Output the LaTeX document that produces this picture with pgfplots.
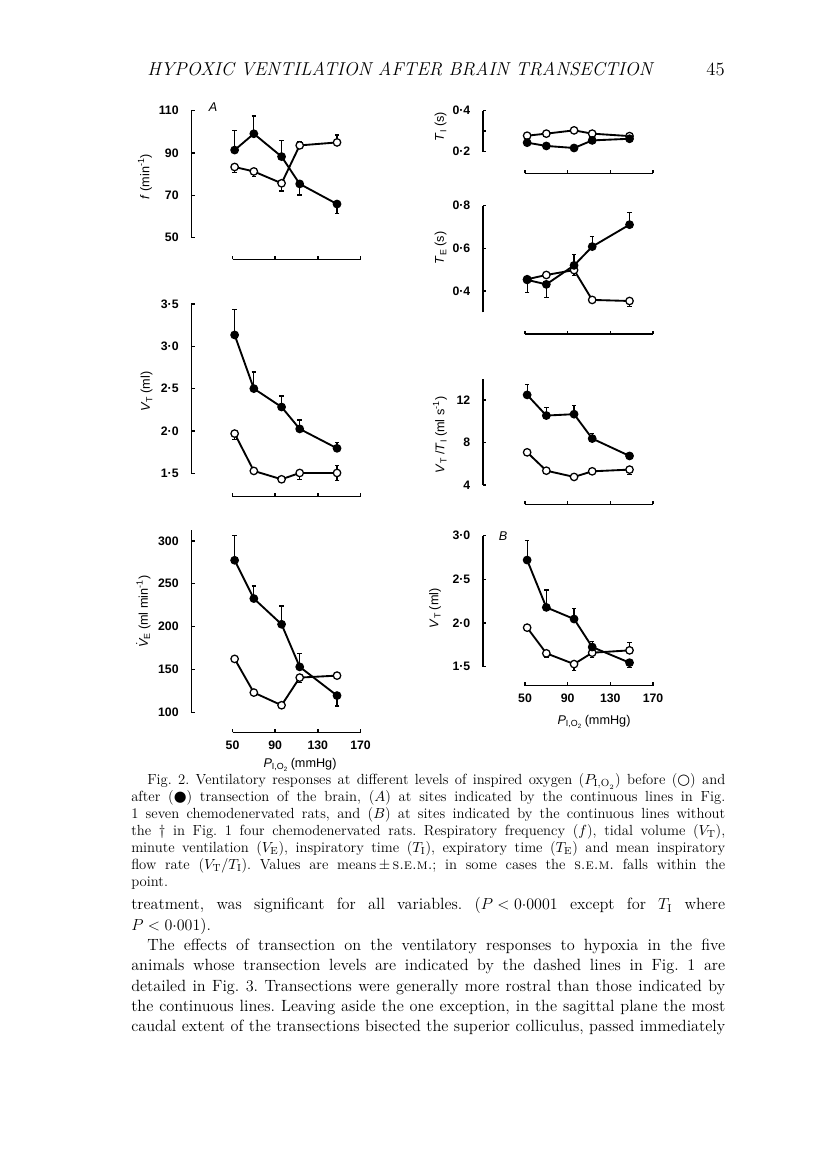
\documentclass[border=0pt]{standalone}
\usepackage{fontspec}
\usepackage{graphicx}
\usepackage{pgfplots}
\pgfplotsset{compat=1.18}
\newfontfamily\hv{Liberation Sans}
\newfontfamily\dv{DejaVu Sans}
\newcommand\tickfont{\hv\bfseries\fontsize{9.2}{10}\selectfont}
\newcommand\labfont{\hv\fontsize{9.5}{10}\selectfont}
\newcommand\sub[1]{\raisebox{-0.35ex}{\scalebox{0.7}{#1}}}
\newcommand\capfont{\fontsize{11}{13}\selectfont\thickmuskip=5mu\relax}
\newcommand\bodyfont{\fontsize{12.2}{14}\selectfont\thickmuskip=5mu\relax}
\frenchspacing

\pgfplotsset{
  panel/.style={
    scale only axis, width=96pt,
    xmin=50, xmax=170,
    axis x line*=bottom, axis y line*=left,
    xtick={50,90,130,170}, xticklabels={},
    tick align=inside, major tick length=2.6pt,
    axis line style={line width=1.05pt},
    tick style={line width=1.05pt, black},
    tick label style={font=\tickfont},
    yticklabel style={xshift=-6pt},
    xticklabel style={yshift=-3pt},
    clip=false,
  },
  leftp/.style={panel, axis y line shift=30.9pt},
  rightp/.style={panel, axis y line shift=31.5pt},
  opn/.style={black, line width=1.4pt, mark=*, mark size=2.8pt,
    mark options={fill=white, line width=0.95pt}},
  fld/.style={black, line width=1.4pt, mark=*, mark size=2.8pt,
    mark options={fill=black, line width=0.95pt}},
  ebar/.style={black, only marks, mark=none, forget plot,
    error bars/.cd, y dir=#1, y explicit,
    error bar style={line width=0.95pt, draw=black},
    error mark options={rotate=90, mark size=1.7pt, line width=0.95pt, black}},
}

\begin{document}
\begin{tikzpicture}[x=0.75pt,y=0.75pt]
\fill[white] (0,0) rectangle (816,1166);

% running head
\node[anchor=base west, inner sep=0pt] at (147,1090) {\fontsize{14}{16}\selectfont\itshape HYPOXIC VENTILATION AFTER BRAIN TRANSECTION};
\node[anchor=base east, inner sep=0pt] at (725,1090) {\fontsize{14}{16}\selectfont 45};

% f
\begin{axis}[leftp, at={(174.375pt,696.225pt)}, anchor=south west, height=95.25pt,
  ymin=50, ymax=110, ytick={50,70,90,110}, yticklabels={50,70,90,110},
  axis x line shift=16.2pt]
\addplot[ebar=plus] coordinates {(52,91.4) +- (0,9.2) (70,99.1) +- (0,8.4) (96,88.3) +- (0,7.5) (113,93.6) +- (0,2) (148,95.0) +- (0,3.5)};
\addplot[ebar=minus] coordinates {(113,75.4) +- (0,5.2) (148,65.9) +- (0,4.4) (52,83.4) +- (0,2.7) (70,81.3) +- (0,2.3) (96,75.7) +- (0,3.7)};
\addplot[opn] coordinates {(52,83.4) (70,81.3) (96,75.7) (113,93.6) (148,95.0)};
\addplot[fld] coordinates {(52,91.4) (70,99.1) (96,88.3) (113,75.4) (148,65.9)};
\end{axis}

% T_I
\begin{axis}[rightp, at={(393.75pt,760.725pt)}, anchor=south west, height=30.75pt,
  ymin=0.2, ymax=0.4, ytick={0.2,0.3,0.4}, yticklabels={0·2,,0·4},
  axis x line shift=16.2pt]
\addplot[opn] coordinates {(52,0.278) (70,0.288) (96,0.304) (113,0.288) (148,0.276)};
\addplot[fld] coordinates {(52,0.244) (70,0.228) (96,0.218) (113,0.255) (148,0.263)};
\end{axis}

% T_E
\begin{axis}[rightp, at={(393.75pt,640.275pt)}, anchor=south west, height=79.95pt,
  ymin=0.3, ymax=0.8, ytick={0.4,0.6,0.8}, yticklabels={0·4,0·6,0·8},
  axis x line shift=16.3pt]
\addplot[ebar=plus] coordinates {(96,0.520) +- (0,0.052) (113,0.608) +- (0,0.047) (148,0.711) +- (0,0.056)};
\addplot[ebar=minus] coordinates {(52,0.452) +- (0,0.058) (70,0.431) +- (0,0.061) (96,0.498) +- (0,0.025) (148,0.353) +- (0,0.026)};
\addplot[opn] coordinates {(52,0.455) (70,0.475) (96,0.498) (113,0.358) (148,0.353)};
\addplot[fld] coordinates {(52,0.452) (70,0.431) (96,0.520) (113,0.608) (148,0.711)};
\end{axis}

% V_T (A)
\begin{axis}[leftp, at={(174.375pt,519.525pt)}, anchor=south west, height=127pt,
  ymin=1.5, ymax=3.5, ytick={1.5,2,2.5,3,3.5}, yticklabels={1·5,2·0,2·5,3·0,3·5},
  axis x line shift=17.55pt]
\addplot[ebar=plus] coordinates {(52,3.134) +- (0,0.303) (70,2.5) +- (0,0.197) (96,2.283) +- (0,0.13) (113,2.024) +- (0,0.106) (148,1.795) +- (0,0.067) (148,1.504) +- (0,0.085)};
\addplot[ebar=minus] coordinates {(52,1.969) +- (0,0.07) (113,1.504) +- (0,0.08) (148,1.504) +- (0,0.085)};
\addplot[opn] coordinates {(52,1.969) (70,1.528) (96,1.429) (113,1.504) (148,1.504)};
\addplot[fld] coordinates {(52,3.134) (70,2.5) (96,2.283) (113,2.024) (148,1.795)};
\end{axis}

% V_T/T_I
\begin{axis}[rightp, at={(393.75pt,510.75pt)}, anchor=south west, height=79.5pt,
  ymin=4, ymax=14, ytick={4,8,12}, yticklabels={4,8,12},
  axis x line shift=14.5pt]
\addplot[ebar=plus] coordinates {(52,12.5) +- (0,1.0) (70,10.55) +- (0,0.73) (96,10.68) +- (0,0.85) (113,8.38) +- (0,0.47)};
\addplot[ebar=minus] coordinates {(148,5.45) +- (0,0.47)};
\addplot[opn] coordinates {(52,7.08) (70,5.35) (96,4.76) (113,5.29) (148,5.45)};
\addplot[fld] coordinates {(52,12.5) (70,10.55) (96,10.68) (113,8.38) (148,6.74)};
\end{axis}

% V_E
\begin{axis}[leftp, at={(174.375pt,340.275pt)}, anchor=south west, height=136.9pt,
  ymin=100, ymax=313, ytick={100,150,200,250,300}, yticklabels={100,150,200,250,300},
  xticklabels={50,90,130,170}, axis x line shift=15pt]
\addplot[ebar=plus] coordinates {(52,277.4) +- (0,29.2) (70,232.7) +- (0,14.8) (96,202.7) +- (0,21.4) (113,153) +- (0,15.9)};
\addplot[ebar=minus] coordinates {(148,119.5) +- (0,12.1) (113,140.5) +- (0,5.5)};
\addplot[opn] coordinates {(52,162.3) (70,123) (96,108.2) (113,140.5) (148,142.8)};
\addplot[fld] coordinates {(52,277.4) (70,232.7) (96,202.7) (113,153) (148,119.5)};
\end{axis}

% V_T (B)
\begin{axis}[rightp, at={(393.75pt,374.475pt)}, anchor=south west, height=98.25pt,
  ymin=1.5, ymax=3.0, ytick={1.5,2,2.5,3}, yticklabels={1·5,2·0,2·5,3·0},
  xticklabels={50,90,130,170}, axis x line shift=14.25pt]
\addplot[ebar=plus] coordinates {(52,2.721) +- (0,0.222) (70,2.179) +- (0,0.199) (96,2.046) +- (0,0.122) (113,1.725) +- (0,0.061) (148,1.687) +- (0,0.088)};
\addplot[ebar=minus] coordinates {(148,1.546) +- (0,0.057) (70,1.653) +- (0,0.046) (96,1.53) +- (0,0.076) (113,1.66) +- (0,0.053)};
\addplot[opn] coordinates {(52,1.947) (70,1.653) (96,1.53) (113,1.66) (148,1.687)};
\addplot[fld] coordinates {(52,2.721) (70,2.179) (96,2.046) (113,1.725) (148,1.546)};
\end{axis}

% axis titles
\node[rotate=90] at (145,989.3) {\labfont\textit{f} (min\textsuperscript{-1})};
\node[rotate=90] at (440.7,1039.3) {\labfont\textit{T}\sub{I} (s)};
\node[rotate=90] at (440.7,918) {\labfont\textit{T}\sub{E} (s)};
\node[rotate=90] at (146.7,774.3) {\labfont\textit{V}\sub{T} (ml)};
\node[rotate=90] at (440,731) {\labfont\textit{V}\sub{T} /\textit{T}\sub{I} (ml s\textsuperscript{-1})};
\node[rotate=90] at (143.3,554.3) {\labfont$\dot{\hbox{\labfont\itshape V}}$\sub{E} (ml min\textsuperscript{-1})};
\node[rotate=90] at (435,557.7) {\labfont\textit{V}\sub{T} (ml)};
\node at (213,1059) {\labfont\itshape A};
\node at (503,630) {\labfont\itshape B};
\node at (300,401) {\labfont\textit{P}\sub{I,O\sub{2}} (mmHg)};
\node at (594,444.3) {\labfont\textit{P}\sub{I,O\sub{2}} (mmHg)};

% caption
\begin{scope}[every node/.style={anchor=base west, inner sep=0pt, font=\capfont}]
\node at (147,381.5) {\makebox[433.5pt][s]{Fig. 2. Ventilatory responses at different levels of inspired oxygen ($P_{\mathrm{I,O}_2}$) before ({\dv ○}) and}};
\node at (131,364.5) {\makebox[445.5pt][s]{after ({\dv ●}) transection of the brain, ($A$) at sites indicated by the continuous lines in Fig.}};
\node at (131,347.5) {\makebox[445.5pt][s]{1 seven chemodenervated rats, and ($B$) at sites indicated by the continuous lines without}};
\node at (131,330.5) {\makebox[445.5pt][s]{the \dag\ in Fig. 1 four chemodenervated rats. Respiratory frequency ($f$), tidal volume ($V_{\mathrm{T}}$),}};
\node at (131,313.5) {\makebox[445.5pt][s]{minute ventilation ($V_{\mathrm{E}}$), inspiratory time ($T_{\mathrm{I}}$), expiratory time ($T_{\mathrm{E}}$) and mean inspiratory}};
\node at (131,296.5) {\makebox[445.5pt][s]{flow rate ($V_{\mathrm{T}}/T_{\mathrm{I}}$). Values are means\,$\pm$\,\textsc{s.e.m.}; in some cases the \textsc{s.e.m.} falls within the}};
\node at (131,279.5) {point.};
\end{scope}

% body text
\begin{scope}[every node/.style={anchor=base west, inner sep=0pt, font=\bodyfont}]
\node at (131,256) {\makebox[445.5pt][s]{treatment, was significant for all variables. ($P<0{\cdot}0001$ except for $T_{\mathrm{I}}$ where}};
\node at (131,235.7) {$P<0{\cdot}001$).};
\node at (147,215.4) {\makebox[433.5pt][s]{The effects of transection on the ventilatory responses to hypoxia in the five}};
\node at (131,195.1) {\makebox[445.5pt][s]{animals whose transection levels are indicated by the dashed lines in Fig. 1 are}};
\node at (131,174.8) {\makebox[445.5pt][s]{detailed in Fig. 3. Transections were generally more rostral than those indicated by}};
\node at (131,154.5) {\makebox[445.5pt][s]{the continuous lines. Leaving aside the one exception, in the sagittal plane the most}};
\node at (131,134.2) {\makebox[445.5pt][s]{caudal extent of the transections bisected the superior colliculus, passed immediately}};
\end{scope}
\end{tikzpicture}
\end{document}
